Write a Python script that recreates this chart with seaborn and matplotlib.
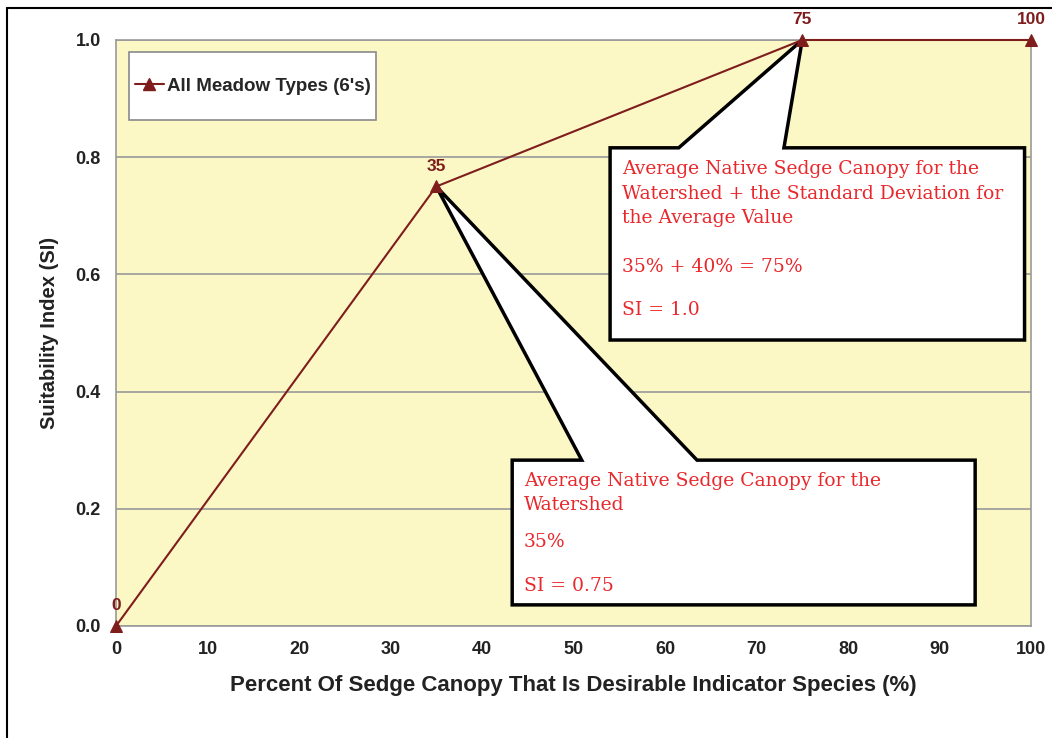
import pandas as pd
import matplotlib.pyplot as plt
import seaborn as sns
from matplotlib.patches import Polygon, Rectangle
from matplotlib.lines import Line2D

# data
canopy_pct = [0, 35, 75, 100]
suitability = [0.0, 0.75, 1.0, 1.0]
point_labels = ['0', '35', '75', '100']
series_name = "All Meadow Types (6's)"

upper_note = ["Average Native Sedge Canopy for the",
              "Watershed + the Standard Deviation for",
              "the Average Value"]
upper_calc = ["35% + 40% = 75%", "SI = 1.0"]
lower_note = ["Average Native Sedge Canopy for the", "Watershed"]
lower_calc = ["35%", "SI = 0.75"]

df = pd.DataFrame({'x': canopy_pct, 'y': suitability, 'lab': point_labels})

sns.set_style('white')
plt.rcParams['font.family'] = ['Liberation Sans', 'DejaVu Sans']

line_col = '#7f1d1d'
red_txt = '#e8282c'

fig = plt.figure(figsize=(10.52, 7.38), dpi=100)
ax = fig.add_axes([0.1103, 0.1518, 0.8697, 0.794])
ax.set_facecolor('#fbf8c6')

sns.lineplot(data=df, x='x', y='y', ax=ax, color=line_col, lw=1.5,
             marker='^', markersize=9, markeredgecolor=line_col, zorder=6,
             clip_on=False)

for _, r in df.iterrows():
    ax.annotate(r['lab'], (r['x'], r['y']), xytext=(0, 9), textcoords='offset points',
                ha='center', va='bottom', color=line_col, fontsize=12.5,
                fontweight='bold', annotation_clip=False)

ax.set_xlim(0, 100)
ax.set_ylim(0, 1.0)
ax.set_xticks(range(0, 101, 10))
ax.set_yticks([0.0, 0.2, 0.4, 0.6, 0.8, 1.0])
ax.set_yticklabels([f'{v:.1f}' for v in ax.get_yticks()])
ax.yaxis.grid(True, color='#9a9a9a', lw=1.2)
ax.set_axisbelow(True)
for s in ax.spines.values():
    s.set_color('#9a9a9a')
    s.set_linewidth(1.2)
ax.tick_params(axis='both', direction='out', length=5, color='#9a9a9a',
               labelsize=13, pad=6)
for t in ax.get_xticklabels() + ax.get_yticklabels():
    t.set_fontweight('bold')
    t.set_color('#222222')

ax.set_xlabel('Percent Of Sedge Canopy That Is Desirable Indicator Species (%)',
              fontsize=16, fontweight='bold', labelpad=12, color='#222222')
ax.set_ylabel('Suitability Index (SI)', fontsize=14.5, fontweight='bold',
              labelpad=12, color='#222222')

# legend: box drawn separately so padding can differ per side
ax.add_patch(Rectangle((0.0142, 0.8635), 0.270, 0.116, transform=ax.transAxes,
                       facecolor='white', edgecolor='#8a8a8a', lw=1.2, zorder=4))
handle = Line2D([], [], color=line_col, lw=1.5, marker='^', markersize=8)
leg = ax.legend([handle], [series_name], loc='center',
                bbox_to_anchor=(0.1492, 0.9215), borderaxespad=0, frameon=False,
                borderpad=0, handlelength=1.55, handletextpad=0.15,
                prop={'weight': 'bold', 'size': 13.5})
leg.set_zorder(5)


def callout(box, base, tip):
    x0, x1, y0, y1 = box
    b0, b1 = base
    pts = [(x0, y1), (b0, y1), tip, (b1, y1), (x1, y1), (x1, y0), (x0, y0)]
    ax.add_patch(Polygon(pts, closed=True, facecolor='white', edgecolor='black',
                         lw=2.5, zorder=4, joinstyle='miter'))


callout((54.0, 99.3, 0.488, 0.816), (61.5, 73.0), (canopy_pct[2], suitability[2]))
callout((43.3, 93.9, 0.036, 0.283), (50.9, 63.5), (canopy_pct[1], suitability[1]))

serif = {'family': ['DejaVu Serif'], 'size': 13.5, 'color': red_txt, 'zorder': 5}
for i, s in enumerate(upper_note):
    ax.text(55.3, 0.779 - i * 0.041, s, va='center', **serif)
ax.text(55.3, 0.613, upper_calc[0], va='center', **serif)
ax.text(55.3, 0.540, upper_calc[1], va='center', **serif)
for i, s in enumerate(lower_note):
    ax.text(44.6, 0.247 - i * 0.041, s, va='center', **serif)
ax.text(44.6, 0.144, lower_calc[0], va='center', **serif)
ax.text(44.6, 0.069, lower_calc[1], va='center', **serif)

# outer frame (top and left edges visible)
fig.add_artist(Line2D([7 / 1052, 1.0], [1 - 8 / 738, 1 - 8 / 738], color='black', lw=1.5))
fig.add_artist(Line2D([7 / 1052, 7 / 1052], [0, 1 - 8 / 738], color='black', lw=1.5))

fig.savefig('out.png', dpi=100)
